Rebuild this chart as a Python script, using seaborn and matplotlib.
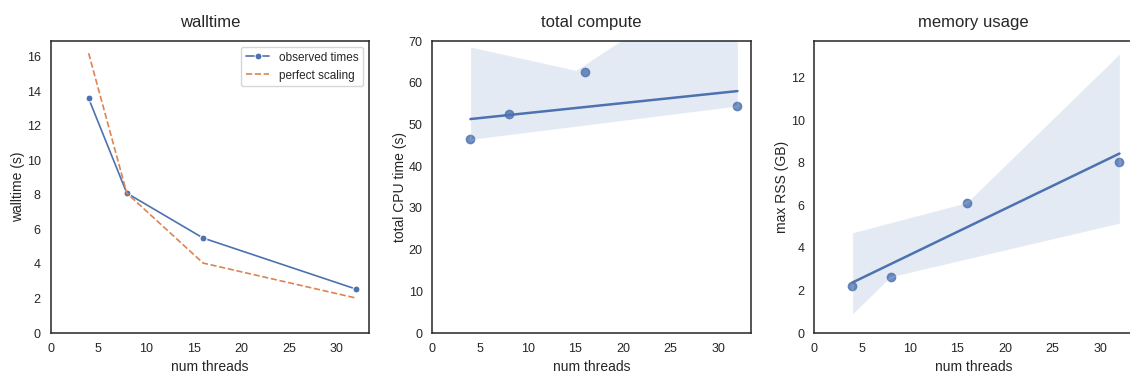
import matplotlib
matplotlib.use("Agg")
import matplotlib.pyplot as plt
import seaborn as sns
import pandas as pd

threads = [4, 8, 16, 32]
walltime_observed = [13.58, 8.1, 5.5, 2.55]
walltime_perfect = [16.2, 8.1, 4.05, 2.03]
cpu_time = [46.4, 52.4, 62.5, 54.4]
max_rss = [2.22, 2.64, 6.13, 8.02]

sns.set_theme(style="white")
plt.rcParams['font.family'] = ['Liberation Sans', 'DejaVu Sans']
plt.rcParams['axes.linewidth'] = 1.1

W, H = 1130, 378
fig = plt.figure(figsize=(W / 100, H / 100), dpi=100)

bottom = (H - 333) / H
height = (333 - 41) / H
width = (369 - 50.5) / W
lefts = [50.5 / W, 432.3 / W, 814.3 / W]
axes = [fig.add_axes([l, bottom, width, height]) for l in lefts]

df = pd.DataFrame({"threads": threads, "observed": walltime_observed,
                   "perfect": walltime_perfect, "cpu": cpu_time, "rss": max_rss})

ax = axes[0]
sns.lineplot(data=df, x="threads", y="observed", marker="o", markersize=5,
             markeredgewidth=0.75, label="observed times", ax=ax, linewidth=1.2)
sns.lineplot(data=df, x="threads", y="perfect", linestyle="--",
             label="perfect scaling", ax=ax, linewidth=1.2)
ax.set_ylim(bottom=0)
ax.set_xlim(left=0)
ax.set_title("walltime", fontsize=12, pad=10)
ax.set_xlabel("num threads", fontsize=10)
ax.set_ylabel("walltime (s)", fontsize=10)
ax.legend(loc="upper right", fontsize=8.5)

ax = axes[1]
sns.regplot(data=df, x="threads", y="cpu", ax=ax, seed=0,
            scatter_kws={"s": 36}, line_kws={"linewidth": 1.8})
ax.set_ylim(0, 70)
ax.set_xlim(left=0)
ax.set_title("total compute", fontsize=12, pad=10)
ax.set_xlabel("num threads", fontsize=10)
ax.set_ylabel("total CPU time (s)", fontsize=10)

ax = axes[2]
sns.regplot(data=df, x="threads", y="rss", ax=ax, seed=0,
            scatter_kws={"s": 36}, line_kws={"linewidth": 1.8})
ax.set_ylim(bottom=0)
ax.set_xlim(left=0)
ax.set_title("memory usage", fontsize=12, pad=10)
ax.set_xlabel("num threads", fontsize=10)
ax.set_ylabel("max RSS (GB)", fontsize=10)

for ax in axes:
    ax.tick_params(labelsize=9, length=0, pad=7)
    ax.xaxis.labelpad = 4
    ax.yaxis.labelpad = 1

fig.savefig("out.png", dpi=100)
